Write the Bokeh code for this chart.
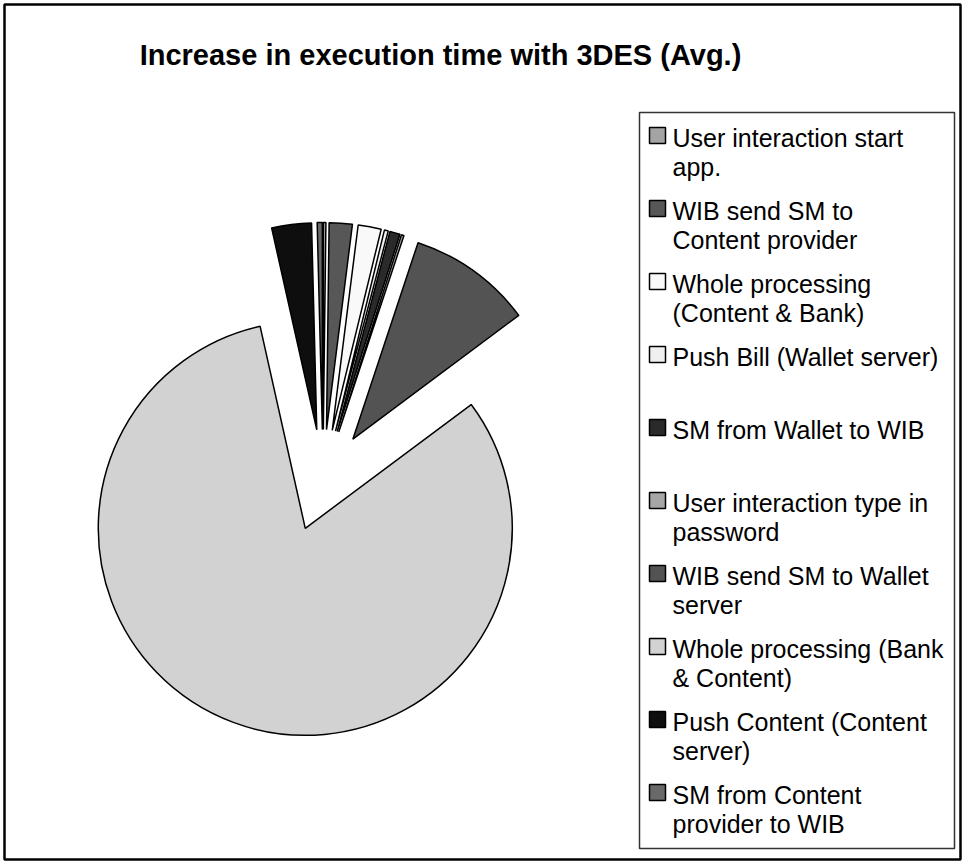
import numpy as np
from bokeh.plotting import figure
from bokeh.models import Range1d
from bokeh.core.properties import value
from bokeh.embed import file_html
from bokeh.resources import INLINE

# ---- data ----
categories = [
    "User interaction start app.",
    "WIB send SM to Content provider",
    "Whole processing (Content & Bank)",
    "Push Bill (Wallet server)",
    "SM from Wallet to WIB",
    "User interaction type in password",
    "WIB send SM to Wallet server",
    "Whole processing (Bank & Content)",
    "Push Content (Content server)",
    "SM from Content provider to WIB",
]
values = [0.2, 1.8, 1.8, 0.3, 0.8, 0.2, 9.7, 81.7, 3.1, 0.4]
legend_lines = [
    ["User interaction start", "app."],
    ["WIB send SM to", "Content provider"],
    ["Whole processing", "(Content & Bank)"],
    ["Push Bill (Wallet server)"],
    ["SM from Wallet to WIB"],
    ["User interaction type in", "password"],
    ["WIB send SM to Wallet", "server"],
    ["Whole processing (Bank", "& Content)"],
    ["Push Content (Content", "server)"],
    ["SM from Content", "provider to WIB"],
]
colors = ["#a4a4a4", "#575757", "#f9f9f9", "#f0f0f0", "#2a2a2a",
          "#a6a6a6", "#535353", "#d2d2d2", "#0e0e0e", "#696969"]
title = "Increase in execution time with 3DES (Avg.)"

W, H = 963, 863
FONT = value("Liberation Sans")

p = figure(width=W, height=H, x_range=Range1d(0, W), y_range=Range1d(0, H),
           output_backend="svg", toolbar_location=None, min_border=0)
p.axis.visible = False
p.grid.visible = False
p.outline_line_color = None
p.background_fill_color = "white"

def Y(y):
    return H - y

# outer border
p.quad(left=[4], right=[960], top=[Y(4)], bottom=[Y(859)],
       fill_color=None, line_color="black", line_width=2.5)

# title
p.text(x=[440], y=[Y(54)], text=[title], text_font=FONT, text_font_style="bold",
       text_font_size="29px", text_align="center", text_baseline="middle", color="black")

# pie (exploded)
CX, CY, R, D = 322.5, Y(480), 207, 51
v = np.array(values, dtype=float)
cum = np.concatenate([[0.0], np.cumsum(v / v.sum())]) * 2 * np.pi
a0 = np.pi / 2 - cum[:-1]
a1 = np.pi / 2 - cum[1:]
mid = (a0 + a1) / 2
xs = CX + D * np.cos(mid)
ys = CY + D * np.sin(mid)
p.wedge(x=xs, y=ys, radius=R, start_angle=a1, end_angle=a0, direction="anticlock",
        fill_color=colors, line_color="black", line_width=1.5)

# legend
LX0, LX1, LY0, LY1 = 639, 954, 112, 848
p.quad(left=[LX0], right=[LX1], top=[Y(LY0)], bottom=[Y(LY1)],
       fill_color="white", line_color="#333333", line_width=1.5)
step = 73.0
first = 137.0
lgap = 29.0
sw = 16
sx, sy, tx, ty, tt = [], [], [], [], []
for i, lines in enumerate(legend_lines):
    yc = first + step * i
    sx.append(LX0 + 18)
    sy.append(Y(yc - 2))
    for j, ln in enumerate(lines):
        tx.append(LX0 + 33)
        ty.append(Y(yc + lgap * j))
        tt.append(ln)
p.rect(x=np.array(sx), y=np.array(sy), width=sw, height=sw, fill_color=colors,
       line_color="black", line_width=1.5)
p.text(x=tx, y=ty, text=tt, text_font=FONT, text_font_size="25px",
       text_baseline="middle", text_align="left", color="black")

open("out.html", "w").write(file_html(p, INLINE))
